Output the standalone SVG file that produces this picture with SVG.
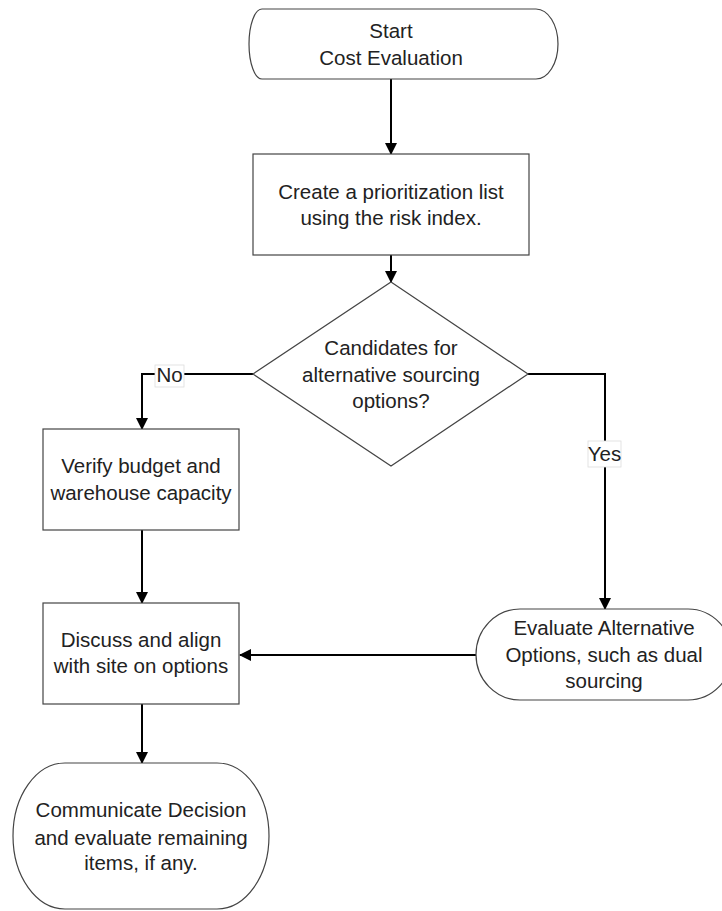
<svg xmlns="http://www.w3.org/2000/svg" width="722" height="911" viewBox="0 0 722 911">
<defs>
<marker id="arr" markerWidth="12" markerHeight="12" refX="11" refY="6" orient="auto" markerUnits="userSpaceOnUse">
<path d="M0,0 L12,6 L0,12 Z" fill="#000"/>
</marker>
<style>
.shape{fill:#fff;stroke:#444;stroke-width:1.2}
.conn{fill:none;stroke:#000;stroke-width:2}
text{font-family:"Liberation Sans",Arial,sans-serif;font-size:20.5px;fill:#222;text-anchor:middle}
.lbl{fill:#fff;stroke:#ddd;stroke-width:0.8}
</style>
</defs>
<rect width="722" height="911" fill="#fff"/>

<g id="connectors">
<line class="conn" x1="391" y1="79" x2="391" y2="154" marker-end="url(#arr)"/>
<line class="conn" x1="391" y1="255" x2="391" y2="282" marker-end="url(#arr)"/>
<polyline class="conn" points="253,374 142,374 142,429" marker-end="url(#arr)"/>
<line class="conn" x1="142" y1="530" x2="142" y2="603" marker-end="url(#arr)"/>
<polyline class="conn" points="528,374 605,374 605,609" marker-end="url(#arr)"/>
<line class="conn" x1="476" y1="655" x2="240" y2="655" marker-end="url(#arr)"/>
<line class="conn" x1="142" y1="704" x2="142" y2="763" marker-end="url(#arr)"/>
<g id="label-no">
<rect class="lbl" x="155" y="365" width="29" height="22"/>
<text x="169.5" y="382">No</text>
</g>
<g id="label-yes">
<rect class="lbl" x="588" y="441" width="33" height="26"/>
<text x="604.5" y="461">Yes</text>
</g>
</g>

<g id="start">
<path class="shape" d="M262,9 H536 A22,35 0 0 1 536,79 H262 A13,35 0 0 1 262,9 Z"/>
<text x="391" y="38">Start</text>
<text x="391" y="65">Cost Evaluation</text>
</g>

<g id="prioritize">
<rect class="shape" x="253" y="154" width="276" height="101"/>
<text x="391" y="199">Create a prioritization list</text>
<text x="391" y="225">using the risk index.</text>
</g>

<g id="decision">
<polygon class="shape" points="391,282 528,374 391,466 253,374"/>
<text x="391" y="355">Candidates for</text>
<text x="391" y="382">alternative sourcing</text>
<text x="391" y="408">options?</text>
</g>

<g id="verify">
<rect class="shape" x="43" y="429" width="196" height="101"/>
<text x="141" y="473">Verify budget and</text>
<text x="141" y="500">warehouse capacity</text>
</g>

<g id="discuss">
<rect class="shape" x="43" y="603" width="196" height="101"/>
<text x="141" y="647">Discuss and align</text>
<text x="141" y="673">with site on options</text>
</g>

<g id="evaluate">
<path class="shape" d="M520,609 H688 A44,45.5 0 0 1 688,700 H520 A44,45.5 0 0 1 520,609 Z"/>
<text x="604" y="635">Evaluate Alternative</text>
<text x="604" y="662">Options, such as dual</text>
<text x="604" y="688">sourcing</text>
</g>

<g id="communicate">
<path class="shape" d="M65,763 H217 A52,73 0 0 1 217,909 H65 A52,73 0 0 1 65,763 Z"/>
<text x="141" y="817">Communicate Decision</text>
<text x="141" y="845">and evaluate remaining</text>
<text x="141" y="870">items, if any.</text>
</g>
</svg>
